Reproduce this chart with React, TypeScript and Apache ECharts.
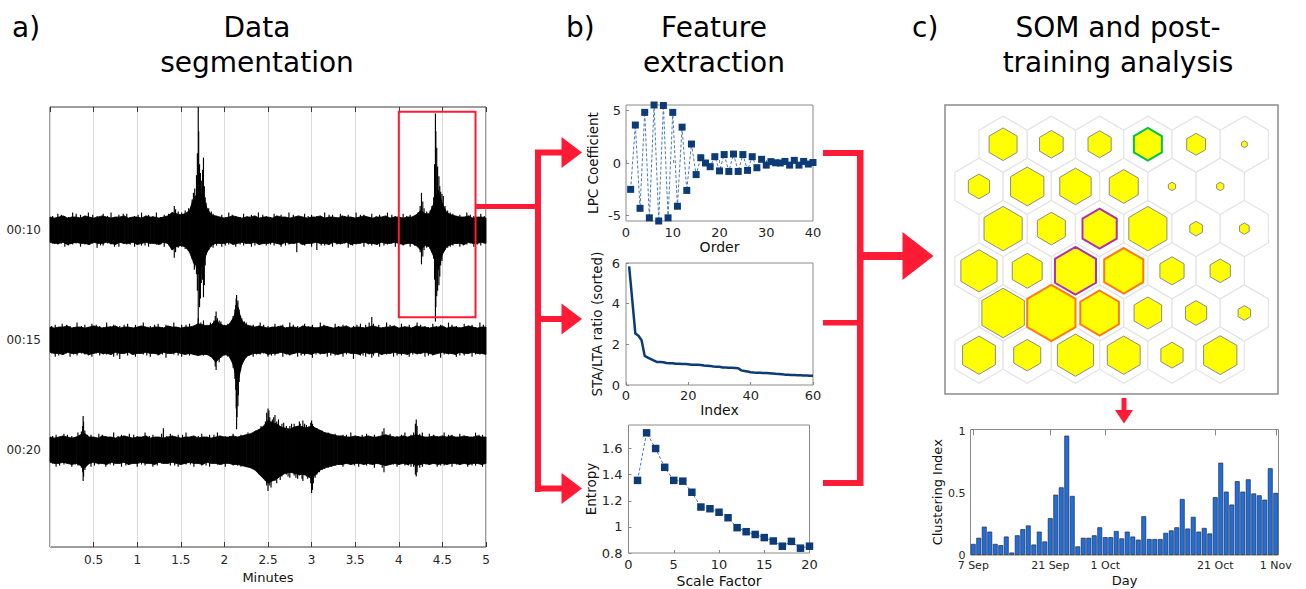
import React, { useEffect, useRef } from 'react';
import * as echarts from 'echarts';

const FONT = 'DejaVu Sans';
const RED = '#ff1a35';
const NAVY = '#0c3b77';
const INK = '#262626';

// ---------------- a) Data segmentation ----------------
const traceLabels = ['00:10', '00:15', '00:20'];
const traceCenters = [300, 200, 100];
const sampleStep = 0.05; // minutes between envelope samples (0 .. 5)

const upper1 = [12,11,12,13,11,12,12,11,13,12,11,12,13,12,11,12,12,13,11,12,12,11,13,12,12,11,12,13,
  16,15,14,15,18,30,33,32,20,14,13,
  12,11,12,13,12,11,12,12,13,11,12,12,11,13,12,12,11,12,13,12,11,12,12,13,11,12,12,11,13,12,12,11,12,13,12,11,12,12,13,11,12,12,11,12,
  12,14,18,15,15,24,36,24,16,14,
  13,12,12,13,11,12,12,11];
const lower1 = [11,12,12,11,13,12,11,12,12,13,11,12,12,11,12,13,11,12,12,11,13,12,11,12,12,13,11,12,
  18,15,14,15,20,30,34,32,20,14,12,
  12,12,11,13,12,11,12,12,11,13,12,12,11,12,13,11,12,12,11,13,12,12,11,12,12,13,11,12,12,11,13,12,12,11,12,12,13,11,12,12,11,12,13,12,
  12,14,18,14,15,24,36,22,15,13,
  12,12,13,11,12,12,11,12];
const upper2 = [12,11,12,12,13,11,12,12,11,12,13,12,11,12,12,13,11,12,12,11,12,13,12,11,12,12,11,13,12,12,11,12,12,
  13,15,14,13,14,18,15,13,14,20,30,18,14,13,
  12,13,12,11,12,12,13,11,12,12,11,13,12,12,11,12,13,12,11,12,12,13,11,12,12,11,12,13,12,11,12,12,13,11,12,12,11,13,12,12,11,12,12,13,11,12,12,11,12,13,12,11,12,12];
const lower2 = [11,12,12,13,11,12,12,11,12,13,12,11,12,12,13,11,12,12,11,13,12,12,11,12,12,13,11,12,12,11,12,13,12,
  13,14,13,13,15,20,16,13,14,22,40,22,15,13,
  12,12,11,13,12,12,11,12,13,12,11,12,12,13,11,12,12,11,12,13,12,11,12,12,13,11,12,12,11,13,12,12,11,12,12,13,11,12,12,11,12,13,12,11,12,12,13,11,12,12,11,12,12,13];
const upper3 = [12,11,12,13,12,11,12,14,15,
  12,12,11,13,12,12,11,12,13,12,11,12,12,13,11,12,12,11,12,13,12,11,12,12,13,11,12,12,11,12,13,12,12,13,12,13,14,
  15,17,19,22,27,25,24,21,20,19,21,22,21,20,22,20,18,16,15,14,13,
  13,12,12,13,12,12,13,12,12,13,14,13,12,12,13,12,13,14,13,12,12,13,12,13,12,13,12,12,13,12,12,13,12,12];
const lower3 = [11,12,12,11,12,13,12,14,16,
  12,11,12,12,13,11,12,12,11,13,12,12,11,12,12,13,11,12,12,11,12,13,12,11,12,12,13,11,12,12,13,12,12,13,13,14,15,
  16,18,22,26,30,28,26,23,21,20,21,22,22,23,26,22,18,16,15,14,13,
  13,12,13,12,12,13,12,13,12,13,14,13,12,13,12,13,12,14,13,12,13,12,13,12,13,12,12,13,12,13,12,12,13,12];

// individual spikes [minute, up, down] relative to the trace centre
const spikes1 = [[0.09,15,13],[0.17,13,15],[0.26,16,13],[0.35,14,15],[0.44,16,13],[0.54,13,16],[0.61,15,14],[0.70,16,13],[0.79,14,15],[0.88,15,13],[0.97,13,15],[1.05,16,14],[1.13,14,15],[1.22,16,13],[1.31,14,15],
  [1.425,22,25],[1.47,17,16],[1.55,18,17],[1.63,28,26],[1.66,38,34],[1.68,50,40],[1.70,112,86],[1.715,60,70],[1.735,45,48],[1.76,66,61],[1.78,30,32],[1.82,20,18],[1.87,15,16],
  [1.97,14,15],[2.05,16,13],[2.13,13,15],[2.22,15,14],[2.31,14,15],[2.39,16,13],[2.48,13,14],[2.57,15,14],[2.65,14,15],[2.74,16,13],[2.83,13,20],[2.92,15,14],[3.00,14,15],[3.06,13,18],[3.15,16,14],[3.24,14,15],[3.33,15,13],[3.42,14,16],[3.51,16,13],[3.60,14,15],[3.69,15,14],[3.78,14,15],[3.87,16,13],[3.96,13,15],[4.05,15,14],[4.13,14,15],
  [4.22,16,15],[4.26,34,31],[4.29,20,18],[4.36,18,17],[4.40,30,26],[4.42,106,83],[4.435,75,60],[4.46,49,50],[4.48,35,32],[4.51,31,20],[4.56,18,16],[4.62,15,14],
  [4.70,14,15],[4.78,16,13],[4.86,13,15],[4.94,15,14],
  [0.03,13,12],[0.13,14,12],[0.21,12,14],[0.30,15,12],[0.40,12,13],[0.49,14,12],[0.58,12,14],[0.66,13,12],[0.74,12,15],[0.84,15,12],[0.92,12,13],[1.01,14,12],[1.09,12,14],[1.18,13,12],[1.27,12,13],[1.36,15,13],
  [1.44,19,20],[1.51,16,15],[1.59,20,19],[1.645,34,30],[1.655,26,36],[1.69,70,55],[1.705,90,40],[1.725,52,62],[1.745,38,40],[1.75,55,45],[1.77,40,50],[1.79,25,22],[1.85,17,15],[1.91,13,14],
  [2.01,12,14],[2.09,14,12],[2.18,12,13],[2.26,13,12],[2.35,12,14],[2.44,14,12],[2.53,12,13],[2.61,13,12],[2.70,12,14],[2.79,14,12],[2.88,12,13],[2.96,13,12],[3.11,12,14],[3.20,14,12],[3.29,12,13],[3.38,13,12],[3.47,12,14],[3.56,14,12],[3.65,12,13],[3.74,13,12],[3.83,12,14],[3.92,14,12],[4.01,12,13],[4.09,13,12],[4.18,12,14],
  [4.245,22,20],[4.275,26,24],[4.32,17,16],[4.38,22,20],[4.41,60,45],[4.425,90,70],[4.445,58,55],[4.47,40,42],[4.495,33,28],[4.53,22,18],[4.59,16,15],[4.66,13,12],[4.74,12,14],[4.82,14,12],[4.90,12,13],[4.98,13,12]];
const spikes2 = [[0.06,14,15],[0.14,15,13],[0.23,13,15],[0.31,16,14],[0.40,14,13],[0.48,15,15],[0.57,13,14],[0.65,16,13],[0.73,14,15],[0.80,13,17],[0.89,15,14],[0.98,14,15],[1.07,16,13],[1.15,13,15],[1.24,15,14],[1.33,14,16],[1.42,16,13],[1.51,14,15],[1.60,15,14],
  [1.70,20,13],[1.76,18,14],[1.84,16,15],[1.905,26,27],[1.92,20,18],[1.96,17,16],[2.04,15,15],[2.10,22,25],[2.13,32,45],[2.14,41,81],[2.155,36,60],[2.17,28,38],[2.20,20,22],[2.25,16,16],
  [2.33,14,15],[2.41,16,13],[2.50,13,15],[2.58,15,14],[2.67,14,15],[2.75,16,14],[2.84,13,15],[2.92,15,14],[3.01,14,16],[3.10,16,13],[3.18,13,15],[3.27,15,14],[3.36,14,15],[3.48,13,17],[3.56,15,14],[3.62,14,15],[3.69,21,16],[3.77,14,15],[3.86,16,13],[3.94,13,15],[4.03,15,14],[4.12,14,15],[4.21,16,13],[4.30,13,15],[4.39,15,14],[4.48,14,16],[4.57,16,13],[4.66,13,15],[4.75,15,14],[4.84,14,15],[4.93,16,13],
  [0.02,13,12],[0.10,12,14],[0.19,14,12],[0.27,12,13],[0.36,13,12],[0.44,12,14],[0.53,14,12],[0.61,12,13],[0.69,13,12],[0.77,12,14],[0.85,14,12],[0.94,12,13],[1.03,13,12],[1.11,12,14],[1.20,14,12],[1.29,12,13],[1.38,13,12],[1.47,12,14],[1.56,14,12],[1.65,13,13],[1.73,16,12],[1.80,14,13],
  [1.88,18,16],[1.895,22,24],[1.94,18,20],[2.00,14,14],[2.07,16,17],[2.12,28,35],[2.135,38,62],[2.145,34,70],[2.16,30,50],[2.185,22,28],[2.23,17,18],[2.29,13,14],
  [2.37,12,13],[2.45,14,12],[2.54,12,14],[2.62,13,12],[2.71,12,13],[2.79,14,12],[2.88,12,14],[2.96,13,12],[3.05,12,13],[3.14,14,12],[3.22,12,14],[3.31,13,12],[3.40,12,13],[3.52,14,12],[3.59,12,14],[3.66,16,13],[3.71,15,14],[3.81,12,13],[3.90,14,12],[3.98,12,14],[4.07,13,12],[4.16,12,13],[4.25,14,12],[4.34,12,14],[4.43,13,12],[4.52,12,13],[4.61,14,12],[4.70,12,14],[4.79,13,12],[4.88,12,13],[4.97,14,12]];
const spikes3 = [[0.07,14,15],[0.16,15,13],[0.25,13,15],[0.32,16,14],[0.375,22,20],[0.38,31,28],[0.40,18,18],[0.47,14,15],[0.56,15,13],[0.64,13,15],[0.73,16,14],[0.82,14,15],[0.91,15,13],[1.00,13,15],[1.09,16,14],[1.18,14,15],[1.30,20,12],[1.38,15,14],[1.47,14,15],[1.56,16,13],[1.65,13,15],[1.74,15,14],[1.83,14,15],[1.92,16,13],[2.01,13,15],[2.10,15,14],[2.19,14,15],[2.27,16,14],
  [2.36,18,17],[2.42,22,20],[2.47,26,28],[2.50,38,37],[2.52,30,32],[2.55,28,27],[2.58,32,28],[2.62,28,25],[2.66,24,24],[2.71,22,22],[2.75,22,25],[2.80,24,23],[2.84,22,26],[2.87,24,22],[2.90,27,28],[2.94,23,24],[2.97,22,25],[3.00,27,39],[3.02,22,30],[3.06,20,22],[3.12,18,18],[3.19,16,16],
  [3.27,15,14],[3.36,14,15],[3.45,16,13],[3.54,13,15],[3.63,15,14],[3.72,14,16],[3.83,20,20],[3.90,15,13],[3.98,13,15],[4.07,16,14],[4.14,14,15],[4.20,28,24],[4.21,22,20],[4.27,16,15],[4.35,15,13],[4.44,13,15],[4.52,16,14],[4.61,14,15],[4.70,15,13],[4.79,13,15],[4.88,16,14],[4.96,14,15],
  [0.03,13,12],[0.11,12,14],[0.20,14,12],[0.29,12,13],[0.36,17,16],[0.385,26,24],[0.43,14,13],[0.51,12,14],[0.60,14,12],[0.69,12,13],[0.78,13,12],[0.87,12,14],[0.96,14,12],[1.05,12,13],[1.14,13,12],[1.23,12,14],[1.28,15,12],[1.34,13,12],[1.43,12,14],[1.52,14,12],[1.61,12,13],[1.70,13,12],[1.79,12,14],[1.88,14,12],[1.97,12,13],[2.06,13,12],[2.15,12,14],[2.23,14,13],
  [2.31,15,15],[2.39,18,19],[2.44,20,24],[2.485,34,32],[2.51,36,30],[2.535,26,34],[2.565,30,26],[2.60,26,30],[2.64,22,27],[2.68,25,21],[2.73,20,24],[2.77,24,20],[2.82,21,25],[2.86,26,23],[2.89,22,26],[2.92,24,22],[2.955,21,26],[2.99,25,30],[3.01,24,36],[3.04,20,25],[3.09,18,20],[3.15,16,17],
  [3.23,14,15],[3.31,12,13],[3.40,14,12],[3.49,12,14],[3.58,14,12],[3.67,12,13],[3.77,13,12],[3.81,17,16],[3.86,13,14],[3.94,12,13],[4.03,14,12],[4.11,12,14],[4.17,16,15],[4.19,24,22],[4.24,15,16],[4.31,12,13],[4.40,14,12],[4.48,12,14],[4.57,14,12],[4.66,12,13],[4.75,13,12],[4.84,12,14],[4.92,14,12]];

const selectionWindow = { start: 4.0, end: 4.88, top: 407.7, bottom: 220.8 };

// ---------------- b) Feature extraction ----------------
const lpcCoef = [-2.5, 3.6, -4.3, 4.8, -5.2, 5.5, -5.5, 5.45, -5.2, 4.8, -4.1, 3.4, -2.6, 1.8, -1.1, 0.5, 0.0, -0.35, 0.6, -0.75,
  0.8, -0.8, 0.85, -0.8, 0.8, -0.7, 0.6, -0.45, 0.35, -0.2, 0.13, 0.02, 0.0, 0.15, -0.2, 0.25, -0.2, 0.15, -0.1, 0.05];
const staLtaSorted = [5.83, 4.2, 2.53, 2.42, 2.2, 1.43, 1.35, 1.27, 1.2, 1.13, 1.13, 1.12, 1.08, 1.07, 1.07, 1.05, 1.04, 1.03, 1.03, 1.02,
  1.0, 1.0, 0.99, 0.98, 0.96, 0.95, 0.94, 0.91, 0.9, 0.9, 0.86, 0.86, 0.85, 0.85, 0.84, 0.82, 0.72, 0.69, 0.66, 0.63,
  0.61, 0.6, 0.6, 0.59, 0.59, 0.58, 0.57, 0.55, 0.54, 0.53, 0.51, 0.5, 0.49, 0.49, 0.48, 0.48, 0.47, 0.47, 0.46, 0.46];
const entropyByScale = [1.356, 1.72, 1.60, 1.456, 1.356, 1.35, 1.265, 1.152, 1.139, 1.112, 1.07, 0.994, 0.963, 0.942, 0.918, 0.892, 0.852, 0.889, 0.837, 0.852];

// ---------------- c) SOM and post-training analysis ----------------
const somHitSize = [
  [0.58, 0.49, 0.48, 0.58, 0.39, 0.12],
  [0.44, 0.69, 0.65, 0.60, 0.15, 0.15],
  [0.79, 0.58, 0.71, 0.79, 0.26, 0.20],
  [0.75, 0.62, 0.85, 0.81, 0.50, 0.42],
  [0.88, 1.00, 0.80, 0.57, 0.44, 0.26],
  [0.68, 0.56, 0.75, 0.68, 0.46, 0.69],
];
const somOutline = ['nnngnn', 'nnnnnn', 'nnmnnn', 'nnmonn', 'noonnn', 'nnnnnn'];
const outlineColors = { n: '#8c8c8c', g: '#00c24a', m: '#b030b0', o: '#ff7a14' };

const clusterIndex = [0.09, 0.14, 0.23, 0.19, 0.09, 0.08, 0.15, 0.02, 0.16, 0.21, 0.24, 0.085, 0.19, 0.11, 0.30, 0.49, 0.55, 0.97, 0.48, 0.07,
  0.14, 0.14, 0.16, 0.225, 0.145, 0.145, 0.195, 0.135, 0.19, 0.15, 0.125, 0.315, 0.13, 0.13, 0.13, 0.18, 0.20, 0.225, 0.455, 0.215,
  0.31, 0.19, 0.22, 0.175, 0.47, 0.75, 0.515, 0.41, 0.60, 0.515, 0.615, 0.50, 0.485, 0.45, 0.705, 0.505];
const dayTickLabels = ['7 Sep', '21 Sep', '1 Oct', '21 Oct', '1 Nov'];
const monthNames = ['Jan', 'Feb', 'Mar', 'Apr', 'May', 'Jun', 'Jul', 'Aug', 'Sep', 'Oct', 'Nov', 'Dec'];

function buildDays() {
  const out: string[] = [];
  const d = new Date(Date.UTC(2019, 8, 7));
  for (let i = 0; i < clusterIndex.length; i++) {
    out.push(`${d.getUTCDate()} ${monthNames[d.getUTCMonth()]}`);
    d.setUTCDate(d.getUTCDate() + 1);
  }
  return out;
}

function buildOption() {
  const traces = [
    { hi: upper1, lo: lower1, spikes: spikes1 },
    { hi: upper2, lo: lower2, spikes: spikes2 },
    { hi: upper3, lo: lower3, spikes: spikes3 },
  ];
  const times = upper1.map((_, i) => +(i * sampleStep).toFixed(2));
  const days = buildDays();
  const dayTickIdx = days.map((d, i) => (dayTickLabels.includes(d) ? i : -1)).filter((i) => i >= 0);

  const lbl = (size: number) => ({ fontFamily: FONT, fontSize: size, color: INK });
  const nameStyle = (size: number) => ({ fontFamily: FONT, fontSize: size, color: '#111' });

  const series: any[] = [];
  // envelope band of each trace: one quadrilateral between consecutive samples
  const bandData: number[][] = [];
  traces.forEach((tr, k) => {
    const c = traceCenters[k];
    for (let i = 0; i < times.length - 1; i++) {
      bandData.push([times[i], c + tr.hi[i], c - tr.lo[i], times[i + 1], c + tr.hi[i + 1], c - tr.lo[i + 1]]);
    }
  });
  series.push({
    type: 'custom', xAxisIndex: 0, yAxisIndex: 0, silent: true, z: 2, data: bandData,
    renderItem: (params: any, api: any) => {
      const a = api.coord([api.value(0), api.value(1)]);
      const b = api.coord([api.value(3), api.value(4)]);
      const cc = api.coord([api.value(3), api.value(5)]);
      const d = api.coord([api.value(0), api.value(2)]);
      return { type: 'polygon', shape: { points: [a, b, cc, d] }, style: { fill: '#000', stroke: '#000', lineWidth: 0.8 } };
    },
  });
  const spikeData: number[][] = [];
  traces.forEach((tr, k) => tr.spikes.forEach(([t, up, dn]) => spikeData.push([t, traceCenters[k] + up, traceCenters[k] - dn])));
  series.push({
    type: 'custom', xAxisIndex: 0, yAxisIndex: 0, silent: true, z: 3,
    data: spikeData,
    renderItem: (params: any, api: any) => {
      const p1 = api.coord([api.value(0), api.value(1)]);
      const p2 = api.coord([api.value(0), api.value(2)]);
      return { type: 'line', shape: { x1: p1[0], y1: p1[1], x2: p2[0], y2: p2[1] }, style: { stroke: '#000', lineWidth: 1.15 } };
    },
  });
  // red selection window
  series.push({
    type: 'custom', xAxisIndex: 0, yAxisIndex: 0, silent: true, z: 5,
    data: [[selectionWindow.start, selectionWindow.top, selectionWindow.end, selectionWindow.bottom]],
    renderItem: (params: any, api: any) => {
      const p1 = api.coord([api.value(0), api.value(1)]);
      const p2 = api.coord([api.value(2), api.value(3)]);
      return { type: 'rect', shape: { x: p1[0], y: p1[1], width: p2[0] - p1[0], height: p2[1] - p1[1] }, style: { fill: 'none', stroke: RED, lineWidth: 2 } };
    },
  });

  series.push({
    type: 'line', xAxisIndex: 2, yAxisIndex: 1, symbol: 'rect', symbolSize: 7,
    itemStyle: { color: NAVY }, lineStyle: { color: '#4a78b3', width: 1, type: [3, 2] },
    data: lpcCoef.map((v, i) => [i + 1, v]),
  });
  series.push({
    type: 'line', xAxisIndex: 3, yAxisIndex: 2, symbol: 'none',
    lineStyle: { color: NAVY, width: 2.5 },
    data: staLtaSorted.map((v, i) => [i + 1, v]),
  });
  series.push({
    type: 'line', xAxisIndex: 4, yAxisIndex: 3, symbol: 'rect', symbolSize: 7.5,
    itemStyle: { color: NAVY }, lineStyle: { color: '#4a78b3', width: 1, type: [3, 2] },
    data: entropyByScale.map((v, i) => [i + 1, v]),
  });

  const somData: any[] = [];
  somHitSize.forEach((row, r) => row.forEach((s, c) => somData.push([c, r, s, 'ngmo'.indexOf(somOutline[r][c])])));
  const hexPoints = (api: any, scale: number) => {
    const col = api.value(0), row = api.value(1);
    const ctr = api.coord([col + (row % 2 === 0 ? 0.5 : 0), row]);
    const w = api.size([1, 0])[0];
    const ry = api.size([0, 1])[1] / 1.5;
    const pts = [[0, -ry], [w / 2, -ry / 2], [w / 2, ry / 2], [0, ry], [-w / 2, ry / 2], [-w / 2, -ry / 2]];
    return pts.map(([dx, dy]) => [ctr[0] + dx * scale, ctr[1] + dy * scale]);
  };
  series.push({
    type: 'custom', xAxisIndex: 5, yAxisIndex: 4, silent: true, z: 2, data: somData,
    renderItem: (params: any, api: any) => ({
      type: 'polygon', shape: { points: hexPoints(api, 1) }, style: { fill: '#fff', stroke: '#e4e4e4', lineWidth: 1.2 },
    }),
  });
  series.push({
    type: 'custom', xAxisIndex: 5, yAxisIndex: 4, silent: true, z: 3, data: somData,
    renderItem: (params: any, api: any) => {
      const kind = api.value(3);
      const key = 'ngmo'[kind];
      return {
        type: 'polygon', shape: { points: hexPoints(api, api.value(2)) },
        style: { fill: '#ffff00', stroke: (outlineColors as any)[key], lineWidth: kind ? 2 : 1 },
      };
    },
  });

  series.push({
    type: 'bar', xAxisIndex: 6, yAxisIndex: 5, barCategoryGap: '12%',
    itemStyle: { color: '#1a6fe8', borderColor: '#2a2a2a', borderWidth: 0.7 },
    data: clusterIndex,
  });

  const gridBase = { show: true, backgroundColor: 'rgba(0,0,0,0)', borderWidth: 1, containLabel: false };
  const grid = [
    { ...gridBase, left: 50, top: 107, width: 436, height: 442, borderColor: '#3a3a3a' },
    { ...gridBase, left: 626, top: 105, width: 187, height: 116, borderColor: '#8a8a8a' },
    { ...gridBase, left: 626, top: 263, width: 187, height: 122, borderColor: '#8a8a8a' },
    { ...gridBase, left: 628.5, top: 425, width: 181, height: 128, borderColor: '#8a8a8a' },
    { ...gridBase, left: 945, top: 105, width: 333, height: 289, borderColor: '#8c8c8c', borderWidth: 1.5 },
    { ...gridBase, left: 970.5, top: 429.5, width: 308, height: 125.5, borderColor: '#8a8a8a' },
  ];

  const noLine = { show: false };
  const xAxis = [
    {
      gridIndex: 0, type: 'value', min: 0, max: 5, interval: 0.5, axisLine: noLine,
      axisTick: { inside: true, length: 5, lineStyle: { color: '#3a3a3a' } },
      axisLabel: { ...lbl(12), margin: 7, showMinLabel: false },
      splitLine: { show: true, lineStyle: { color: '#dadada', width: 1 } },
      name: 'Minutes', nameLocation: 'middle', nameGap: 24, nameTextStyle: nameStyle(13),
    },
    {
      gridIndex: 0, type: 'value', position: 'top', min: 0, max: 5, interval: 0.5, axisLine: noLine,
      axisTick: { inside: true, length: 5, lineStyle: { color: '#3a3a3a' } }, axisLabel: { show: false }, splitLine: { show: false },
    },
    {
      gridIndex: 1, type: 'value', min: 0, max: 40, interval: 10, axisLine: noLine,
      axisTick: { inside: true, length: 3, lineStyle: { color: '#8a8a8a' } }, axisLabel: { ...lbl(13), margin: 5 }, splitLine: { show: false },
      name: 'Order', nameLocation: 'middle', nameGap: 18, nameTextStyle: nameStyle(14),
    },
    {
      gridIndex: 2, type: 'value', min: 0, max: 60, interval: 20, axisLine: noLine,
      axisTick: { inside: true, length: 3, lineStyle: { color: '#8a8a8a' } }, axisLabel: { ...lbl(13), margin: 4 }, splitLine: { show: false },
      name: 'Index', nameLocation: 'middle', nameGap: 17, nameTextStyle: nameStyle(14),
    },
    {
      gridIndex: 3, type: 'value', min: 0, max: 20, interval: 5, axisLine: noLine,
      axisTick: { inside: true, length: 3, lineStyle: { color: '#8a8a8a' } }, axisLabel: { ...lbl(13), margin: 5 }, splitLine: { show: false },
      name: 'Scale Factor', nameLocation: 'middle', nameGap: 21, nameTextStyle: nameStyle(14),
    },
    { gridIndex: 4, type: 'value', min: -0.704, max: 6.197, show: false },
    {
      gridIndex: 5, type: 'category', data: days, boundaryGap: true, axisLine: noLine,
      axisTick: { show: false },
      axisLabel: { ...lbl(11), margin: 5, interval: (i: number) => dayTickIdx.includes(i) },
      name: 'Day', nameLocation: 'middle', nameGap: 19, nameTextStyle: nameStyle(13),
    },
    {
      gridIndex: 5, type: 'category', position: 'top', data: days, boundaryGap: true, axisLine: noLine,
      axisTick: { show: true, inside: true, length: 6, alignWithLabel: true, interval: (i: number) => dayTickIdx.includes(i), lineStyle: { color: '#8a8a8a' } },
      axisLabel: { show: false },
    },
  ];
  const yAxis = [
    {
      gridIndex: 0, type: 'value', min: 12, max: 412, axisLine: noLine, splitLine: { show: false },
      axisTick: { inside: true, length: 4, customValues: traceCenters, lineStyle: { color: '#3a3a3a' } },
      axisLabel: { ...lbl(12), margin: 9, customValues: traceCenters, formatter: (v: number) => traceLabels[traceCenters.indexOf(v)] ?? '' },
    },
    {
      gridIndex: 1, type: 'value', min: -5.5, max: 5.5, axisLine: noLine, splitLine: { show: false },
      axisTick: { inside: true, length: 3, customValues: [-5, 0, 5], lineStyle: { color: '#8a8a8a' } },
      axisLabel: { ...lbl(13), margin: 5, customValues: [-5, 0, 5] },
      name: 'LPC Coefficient', nameLocation: 'middle', nameGap: 26, nameTextStyle: nameStyle(13.5),
    },
    {
      gridIndex: 2, type: 'value', min: 0, max: 6, interval: 2, axisLine: noLine, splitLine: { show: false },
      axisTick: { inside: true, length: 3, lineStyle: { color: '#8a8a8a' } },
      axisLabel: { ...lbl(13), margin: 6 },
      name: 'STA/LTA ratio (sorted)', nameLocation: 'middle', nameGap: 22, nameTextStyle: nameStyle(13.5),
    },
    {
      gridIndex: 3, type: 'value', min: 0.8, max: 1.78, axisLine: noLine, splitLine: { show: false },
      axisTick: { inside: true, length: 3, customValues: [0.8, 1, 1.2, 1.4, 1.6], lineStyle: { color: '#8a8a8a' } },
      axisLabel: { ...lbl(13), margin: 6, customValues: [0.8, 1, 1.2, 1.4, 1.6], formatter: (v: number) => String(+v.toFixed(1)) },
      name: 'Entropy', nameLocation: 'middle', nameGap: 31, nameTextStyle: nameStyle(13.5),
    },
    { gridIndex: 4, type: 'value', min: -0.93, max: 5.92, inverse: true, show: false },
    {
      gridIndex: 5, type: 'value', min: 0, max: 1.02, axisLine: noLine, splitLine: { show: false },
      axisTick: { inside: true, length: 4, customValues: [0, 0.5, 1], lineStyle: { color: '#8a8a8a' } },
      axisLabel: { ...lbl(11), margin: 5, customValues: [0, 0.5, 1] },
      name: 'Clustering Index', nameLocation: 'middle', nameGap: 24, nameTextStyle: nameStyle(13),
    },
  ];

  const title = (text: string, x: number, y: number, align = 'center') => ({
    type: 'text', z: 100, silent: true,
    style: { text, x, y, font: `28px "${FONT}"`, fill: '#000', align, textAlign: align, verticalAlign: 'middle', textVerticalAlign: 'middle' },
  });
  const rect = (x: number, y: number, w: number, h: number) => ({ type: 'rect', z: 100, silent: true, shape: { x, y, width: w, height: h }, style: { fill: RED } });
  const tri = (pts: number[][]) => ({ type: 'polygon', z: 100, silent: true, shape: { points: pts }, style: { fill: RED } });

  const graphic = [
    title('a)', 12, 27, 'left'), title('Data', 257, 27), title('segmentation', 257, 62),
    title('b)', 566, 27, 'left'), title('Feature', 714, 27), title('extraction', 714, 62),
    title('c)', 912, 27, 'left'), title('SOM and post-', 1118, 27), title('training analysis', 1118, 62),
    // left bracket
    rect(475, 204, 64, 5),
    rect(535, 150, 6, 342),
    rect(535, 149.5, 28, 6), tri([[561.5, 137], [582, 152.5], [561.5, 168]]),
    rect(535, 316, 28, 6), tri([[561.5, 303.5], [582, 319], [561.5, 334.5]]),
    rect(535, 485.5, 28, 6), tri([[561.5, 473], [582, 488.5], [561.5, 504]]),
    // right bracket
    rect(823, 150, 40, 6), rect(823, 320, 40, 5.5), rect(823, 480, 40, 6), rect(857, 150, 6.5, 336),
    rect(862, 252, 42, 8), tri([[902.5, 232], [933.5, 256], [902.5, 280]]),
    // down arrow
    rect(1121.5, 398, 5, 13), tri([[1115, 410], [1133, 410], [1124, 423.5]]),
  ];

  return { animation: false, backgroundColor: '#fff', textStyle: { fontFamily: FONT }, grid, xAxis, yAxis, series, graphic };
}

export default function App() {
  const ref = useRef<HTMLDivElement>(null);
  useEffect(() => {
    if (!ref.current) return;
    const chart = echarts.init(ref.current, undefined, { renderer: 'svg' });
    chart.setOption(buildOption() as any);
    return () => chart.dispose();
  }, []);
  return <div ref={ref} style={{ position: 'fixed', left: 0, top: 0, width: 1306, height: 589, background: '#fff' }} />;
}
